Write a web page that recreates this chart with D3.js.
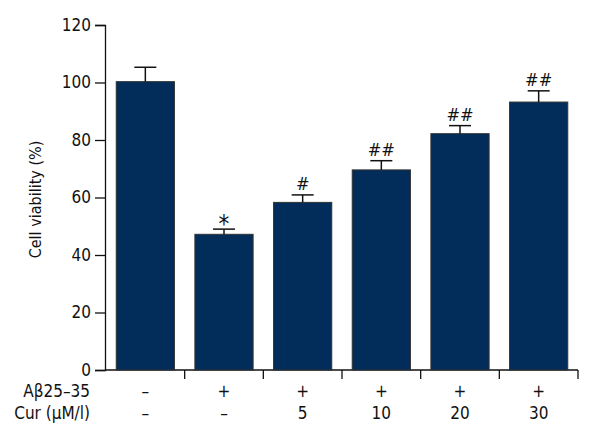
<!DOCTYPE html>
<html lang="en">
<head>
  <meta charset="UTF-8">
  <title>Cell viability</title>
  <script src="https://d3js.org/d3.v7.min.js"></script>
  <style>
    body { margin: 0; background: #fff; }
    text { font-family: "DejaVu Sans Condensed", "Liberation Sans Narrow", sans-serif; fill: #111; }
  </style>
</head>
<body>
<svg width="600" height="440"></svg>
<script>
  // values
  const groups = ["g1", "g2", "g3", "g4", "g5", "g6"];
  const viability = [100.3, 47.2, 58.3, 69.6, 82.2, 93.2];
  const errors = [5.0, 1.8, 2.6, 3.2, 2.8, 3.9];
  const marks = ["", "*", "#", "##", "##", "##"];
  const abetaRow = ["\u2013", "+", "+", "+", "+", "+"];
  const curRow = ["\u2013", "\u2013", "5", "10", "20", "30"];
  const rowLabels = ["A\u03b225\u201335", "Cur (\u03bcM/l)"];
  const yTicks = [0, 20, 40, 60, 80, 100, 120];

  const svg = d3.select("svg");
  const x0 = 106, x1 = 578, yTop = 25, yBottom = 370;
  const fs = 17;

  const x = d3.scaleBand().domain(groups).range([x0, x1]).padding(0);
  const y = d3.scaleLinear().domain([0, 120]).range([yBottom, yTop]);
  const barW = x.bandwidth() * 0.74;

  // y axis
  const yAxis = svg.append("g")
    .attr("transform", `translate(${x0 - 1},0)`)
    .call(d3.axisLeft(y).tickValues(yTicks).tickSize(10).tickPadding(4));
  yAxis.select(".domain").attr("stroke", "#111").attr("stroke-width", 1.3);
  yAxis.selectAll(".tick line").attr("stroke", "#111").attr("stroke-width", 1.3);
  yAxis.selectAll(".tick text").attr("font-size", fs).attr("fill", "#111");
  yAxis.attr("font-family", null).attr("font-size", null);

  // x axis, ticks at the band edges
  const xAxis = svg.append("g").attr("transform", `translate(0,${yBottom})`);
  xAxis.append("line").attr("x1", x0 - 1).attr("x2", x1)
    .attr("stroke", "#111").attr("stroke-width", 1.3);
  xAxis.selectAll(".xt").data(groups).enter().append("line")
    .attr("x1", d => x(d) + x.bandwidth()).attr("x2", d => x(d) + x.bandwidth())
    .attr("y1", 0).attr("y2", 9)
    .attr("stroke", "#111").attr("stroke-width", 1.3);

  // bars
  svg.append("g").selectAll("rect").data(groups).enter().append("rect")
    .attr("x", d => x(d) + (x.bandwidth() - barW) / 2)
    .attr("width", barW)
    .attr("y", (d, i) => y(viability[i]))
    .attr("height", (d, i) => yBottom - y(viability[i]))
    .attr("fill", "#022c5a")
    .attr("stroke", "#333")
    .attr("stroke-width", 1);

  // error bars (upper only)
  const err = svg.append("g").attr("stroke", "#111").attr("stroke-width", 1.5);
  groups.forEach((g, i) => {
    const cx = x(g) + x.bandwidth() / 2;
    err.append("line").attr("x1", cx).attr("x2", cx)
      .attr("y1", y(viability[i])).attr("y2", y(viability[i] + errors[i]));
    err.append("line").attr("x1", cx - 11).attr("x2", cx + 11)
      .attr("y1", y(viability[i] + errors[i])).attr("y2", y(viability[i] + errors[i]));
  });

  // significance marks
  svg.append("g").selectAll("text").data(groups).enter().append("text")
    .attr("x", d => x(d) + x.bandwidth() / 2)
    .attr("y", (d, i) => y(viability[i] + errors[i]) + (marks[i] === "*" ? 3 : -5))
    .attr("text-anchor", "middle")
    .attr("font-size", (d, i) => marks[i] === "*" ? 24 : 18)
    .text((d, i) => marks[i]);

  // treatment rows under the axis
  const rows = [abetaRow, curRow];
  const rowY = [397, 419];
  rows.forEach((row, r) => {
    svg.append("text").attr("x", 90).attr("y", rowY[r])
      .attr("text-anchor", "end").attr("font-size", fs).text(rowLabels[r]);
    svg.append("g").selectAll("text").data(groups).enter().append("text")
      .attr("x", d => x(d) + x.bandwidth() / 2)
      .attr("y", rowY[r])
      .attr("text-anchor", "middle").attr("font-size", fs)
      .text((d, i) => row[i]);
  });

  // y label
  svg.append("text")
    .attr("transform", `translate(41,${(yTop + yBottom) / 2 + 2}) rotate(-90)`)
    .attr("text-anchor", "middle").attr("font-size", 16)
    .text("Cell viability (%)");
</script>
</body>
</html>
